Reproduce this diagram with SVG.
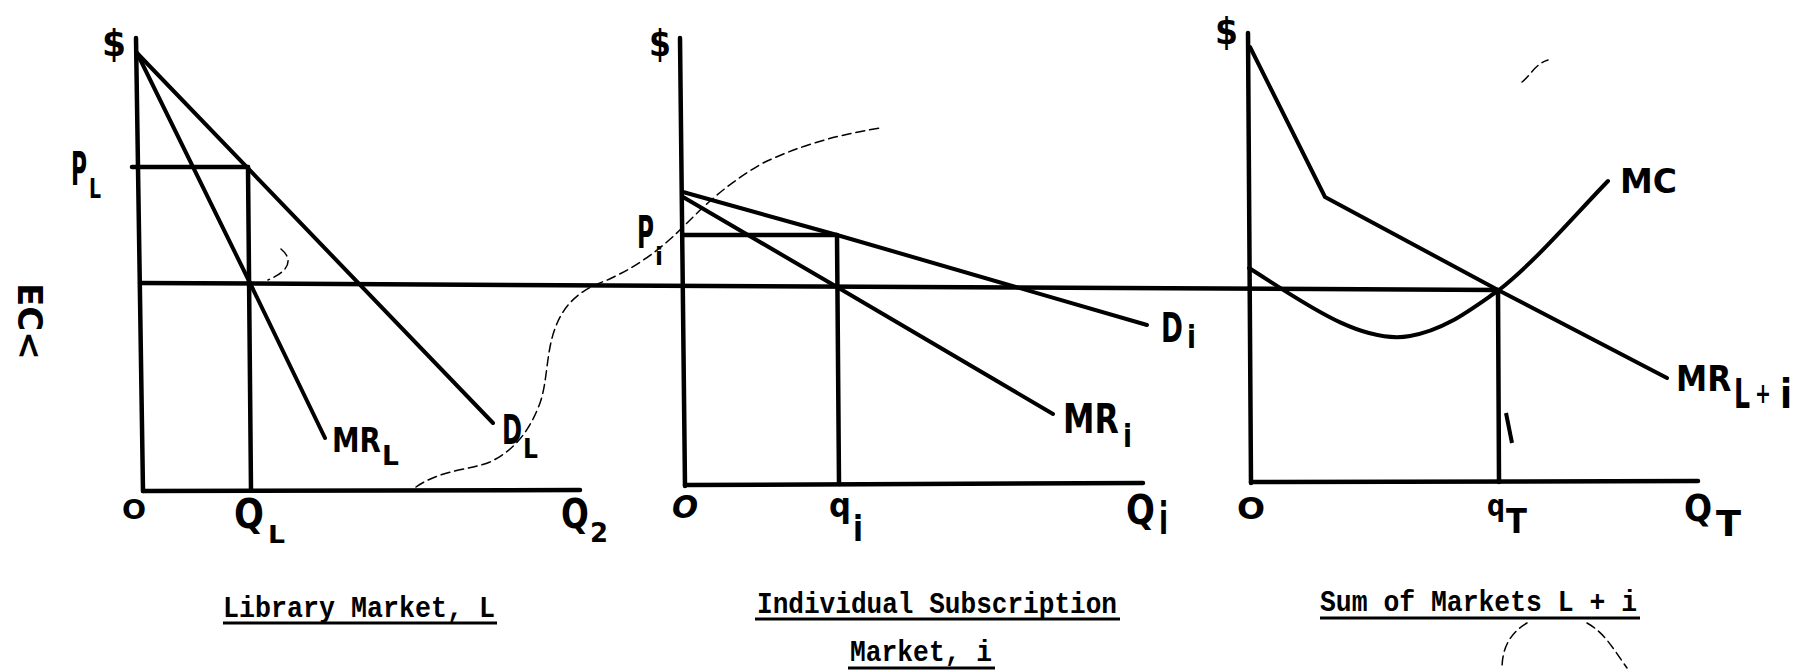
<svg xmlns="http://www.w3.org/2000/svg" width="1795" height="672" viewBox="0 0 1795 672">
<style>
.ax{stroke:#000;stroke-width:4.5;fill:none;stroke-linecap:round}
.cv{stroke:#000;stroke-width:4;fill:none;stroke-linecap:round;stroke-linejoin:round}
.lb{font-family:"DejaVu Sans","Liberation Sans",sans-serif;font-weight:bold;fill:#000}
.tt{font-family:"Liberation Mono","DejaVu Sans Mono",monospace;font-weight:bold;font-size:29px;fill:#000}
.ul{stroke:#000;stroke-width:3}
.ns{stroke:#000;stroke-width:1.5;fill:none;stroke-dasharray:9 5;stroke-linecap:round}
</style>
<rect width="1795" height="672" fill="#fff"/>

<g id="connectors">
  <line class="ax" x1="140" y1="283" x2="1498" y2="290"/>
  <path class="ns" d="M416,487 C440,470 470,470 490,462 C515,450 530,430 540,403 C548,380 546,350 556,326 C566,300 585,288 605,281 C630,270 655,255 683,227 C705,205 725,185 763,163 C795,148 830,136 880,128"/>
  <path class="ns" d="M281,249 C292,258 292,270 268,280" stroke-dasharray="none"/>
  <path class="ns" d="M1527,623 C1510,633 1502,648 1502,669"/>
  <path class="ns" d="M1587,623 C1605,633 1614,650 1627,668"/>
  <path class="ns" d="M1522,82 C1530,76 1535,64 1548,60" stroke-dasharray="none" stroke-width="2"/>
  <line x1="1506" y1="413" x2="1512" y2="443" stroke="#000" stroke-width="4"/>
</g>

<g id="panel-library">
  <line class="ax" x1="136" y1="38" x2="143" y2="491"/>
  <line class="ax" x1="143" y1="491" x2="580" y2="490"/>
  <line class="ax" x1="132" y1="167" x2="248" y2="167"/>
  <line class="ax" x1="248" y1="167" x2="251" y2="490"/>
  <line class="cv" x1="137" y1="53" x2="493" y2="423"/>
  <polyline class="cv" points="137,53 250,283 325,438"/>
  <text class="lb" transform="translate(102,56) scale(0.91,1)" font-size="38">$</text>
  <text class="lb" transform="translate(71,185) scale(0.475,1)" font-size="46">P</text>
  <text class="lb" transform="translate(89,198) scale(0.7,1)" font-size="27">L</text>
  <text class="lb" transform="translate(122,519) scale(1.09,1)" font-size="26">O</text>
  <text class="lb" transform="translate(234,528) scale(0.88,1)" font-size="40">Q</text>
  <text class="lb" transform="translate(268,543) scale(1.07,1)" font-size="25">L</text>
  <text class="lb" transform="translate(332,452) scale(0.84,1)" font-size="33">MR</text>
  <text class="lb" transform="translate(382,465) scale(1.02,1)" font-size="26">L</text>
  <text class="lb" transform="translate(502,444) scale(0.59,1)" font-size="41">D</text>
  <text class="lb" transform="translate(523,458) scale(0.9,1)" font-size="26">L</text>
  <text class="lb" transform="translate(561,528) scale(0.82,1)" font-size="40">Q</text>
  <text class="lb" transform="translate(590,542) scale(0.96,1)" font-size="27">2</text>
  <text class="tt" x="223" y="617" textLength="272" lengthAdjust="spacingAndGlyphs">Library Market, L</text>
  <line class="ul" x1="223" y1="623" x2="497" y2="623"/>
</g>

<g id="panel-individual">
  <line class="ax" x1="680" y1="38" x2="685" y2="486"/>
  <line class="ax" x1="685" y1="485" x2="1143" y2="483"/>
  <line class="ax" x1="683" y1="235" x2="837" y2="235"/>
  <line class="ax" x1="837" y1="235" x2="839" y2="484"/>
  <polyline class="cv" points="683,192 837,235 1147,325"/>
  <polyline class="cv" points="683,197 837,287 1053,414"/>
  <text class="lb" transform="translate(649,56) scale(0.83,1)" font-size="38">$</text>
  <text class="lb" transform="translate(637,248) scale(0.515,1)" font-size="45">P</text>
  <text class="lb" transform="translate(655,265) scale(0.97,1)" font-size="24">i</text>
  <text class="lb" transform="translate(672,518) scale(0.96,1)" font-size="32" font-style="italic">O</text>
  <text class="lb" transform="translate(829,517) scale(0.93,1)" font-size="33">q</text>
  <text class="lb" transform="translate(853,541) scale(0.81,1)" font-size="36">i</text>
  <text class="lb" transform="translate(1161,342) scale(0.66,1)" font-size="40">D</text>
  <text class="lb" transform="translate(1187,348) scale(0.82,1)" font-size="32">i</text>
  <text class="lb" transform="translate(1063,433) scale(0.79,1)" font-size="40">MR</text>
  <text class="lb" transform="translate(1123,447) scale(0.82,1)" font-size="32">i</text>
  <text class="lb" transform="translate(1126,524) scale(0.85,1)" font-size="40">Q</text>
  <text class="lb" transform="translate(1159,534) scale(0.6,1)" font-size="44">i</text>
  <text class="tt" x="757" y="613" textLength="360" lengthAdjust="spacingAndGlyphs">Individual Subscription</text>
  <line class="ul" x1="755" y1="619" x2="1120" y2="619"/>
  <text class="tt" x="850" y="661" textLength="142" lengthAdjust="spacingAndGlyphs">Market, i</text>
  <line class="ul" x1="848" y1="668" x2="995" y2="668"/>
</g>

<g id="panel-sum">
  <line class="ax" x1="1248" y1="33" x2="1251" y2="483"/>
  <line class="ax" x1="1251" y1="482" x2="1698" y2="481"/>
  <line class="ax" x1="1498" y1="290" x2="1499" y2="482"/>
  <polyline class="cv" points="1250,47 1325,197 1498,290 1667,378"/>
  <path class="cv" d="M1249,268 C1300,300 1360,345 1410,336 C1445,330 1470,310 1499,290 C1535,262 1575,215 1608,181"/>
  <text class="lb" transform="translate(1215,44) scale(0.87,1)" font-size="38">$</text>
  <text class="lb" transform="translate(1237,519) scale(1.1,1)" font-size="30">O</text>
  <text class="lb" transform="translate(1487,516) scale(0.84,1)" font-size="30">q</text>
  <text class="lb" transform="translate(1506,533) scale(0.93,1)" font-size="33">T</text>
  <text class="lb" transform="translate(1684,521) scale(0.87,1)" font-size="38">Q</text>
  <text class="lb" transform="translate(1716,536) scale(1.02,1)" font-size="36">T</text>
  <text class="lb" transform="translate(1620,193) scale(0.97,1)" font-size="34">MC</text>
  <text class="lb" transform="translate(1676,391) scale(0.87,1)" font-size="36">MR</text>
  <text class="lb" transform="translate(1734,408) scale(0.63,1)" font-size="40">L</text>
  <text class="lb" transform="translate(1755,403) scale(0.68,1)" font-size="28">+</text>
  <text class="lb" transform="translate(1780,408) scale(0.88,1)" font-size="40">i</text>
  <text class="tt" x="1320" y="611" textLength="317" lengthAdjust="spacingAndGlyphs">Sum of Markets L + i</text>
  <line class="ul" x1="1320" y1="618" x2="1640" y2="618"/>
</g>

<g id="margin-mark">
  <text class="lb" transform="translate(18,283) rotate(90)" font-size="34">EC&lt;</text>
</g>
</svg>
